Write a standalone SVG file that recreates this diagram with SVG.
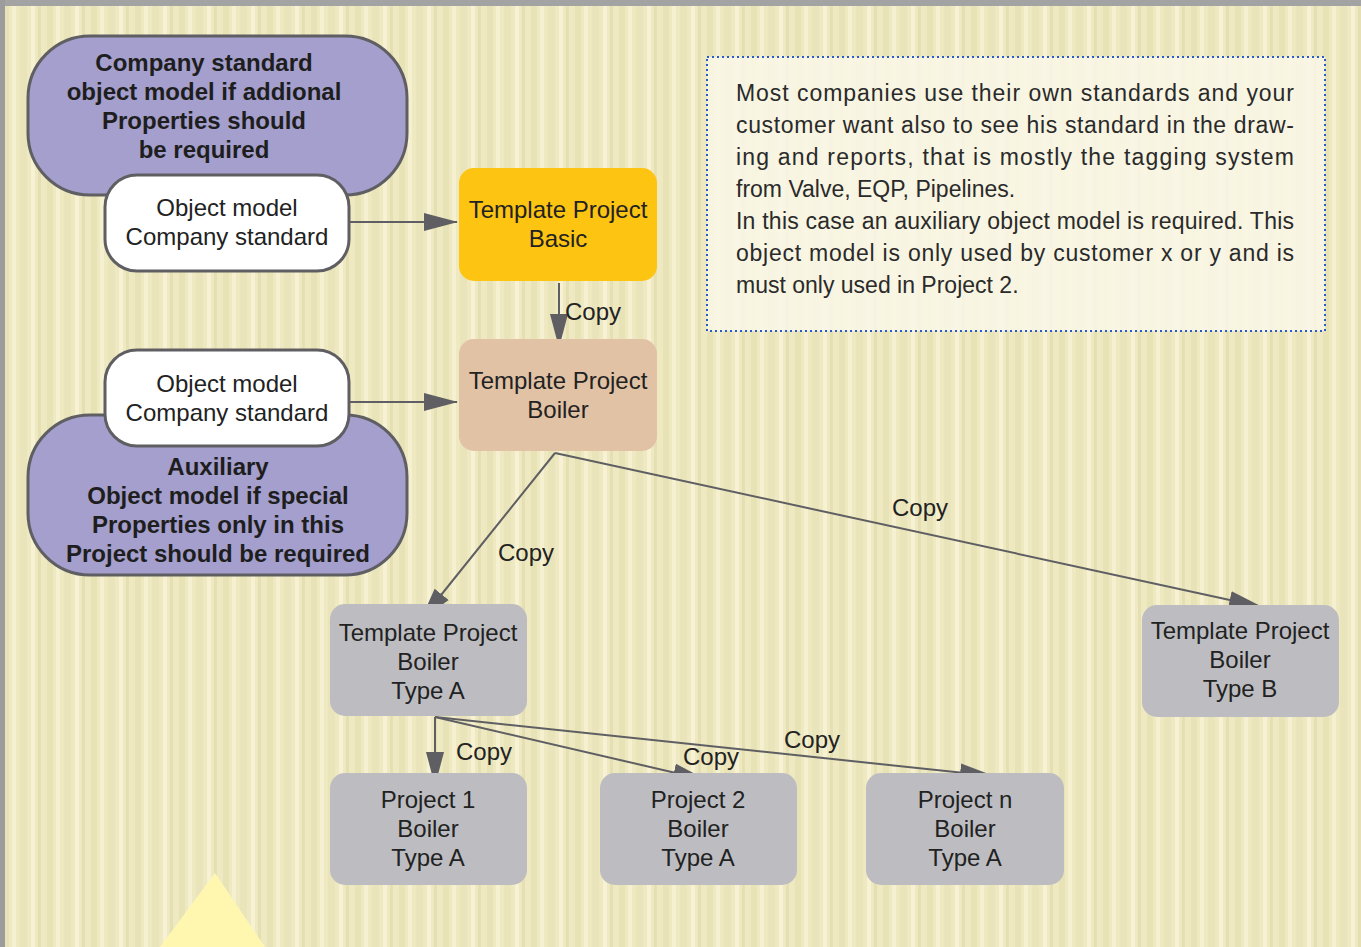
<svg xmlns="http://www.w3.org/2000/svg" width="1361" height="947" viewBox="0 0 1361 947">
<style>
.t{font-family:"Liberation Sans",Arial,sans-serif;font-size:24px;fill:#222;text-anchor:middle}
.b{font-family:"Liberation Sans",Arial,sans-serif;font-size:24px;font-weight:bold;fill:#1e1e1e;text-anchor:middle}
.p{font-family:"Liberation Sans",Arial,sans-serif;font-size:23px;fill:#2a2a2a}
.lbl{font-family:"Liberation Sans",Arial,sans-serif;font-size:24px;fill:#222}
.purple{fill:#a49fcc;stroke:#5f5f63;stroke-width:3}
.white{fill:#ffffff;stroke:#5f5f63;stroke-width:3}
.gray{fill:#bdbdc1}
.edge{stroke:#5f5f63;stroke-width:2;fill:none;marker-end:url(#ah)}
</style>
<defs>
<pattern id="stripes" width="44" height="947" patternUnits="userSpaceOnUse">
<rect width="44" height="947" fill="#efe9c2"/>
<rect x="3" width="6" height="947" fill="#e8e2b7"/>
<rect x="12" width="4" height="947" fill="#f5f1d0"/>
<rect x="20" width="7" height="947" fill="#eae4ba"/>
<rect x="31" width="4" height="947" fill="#f6f2d3"/>
<rect x="38" width="3" height="947" fill="#e6dfb3"/>
</pattern>
<marker id="ah" markerUnits="userSpaceOnUse" markerWidth="36" markerHeight="20" refX="33" refY="10" orient="auto">
<path d="M0,1 L34,10 L0,19 Z" fill="#5f5f63"/>
</marker>
</defs>
<rect width="1361" height="947" fill="url(#stripes)"/>
<rect x="0" y="0" width="1361" height="6" fill="#a3a3a3"/>
<rect x="0" y="0" width="5" height="947" fill="#9c9c9c"/>
<polygon points="215,873 160,947 265,947" fill="#fff7b0"/>

<g id="note">
<rect x="707" y="57" width="618" height="274" fill="#f9f7e8" fill-opacity="0.85" stroke="#2a5cc8" stroke-width="2" stroke-dasharray="2,3"/>
<text class="p" x="736" y="101" textLength="558" lengthAdjust="spacing">Most companies use their own standards and your</text>
<text class="p" x="736" y="133" textLength="558" lengthAdjust="spacing">customer want also to see his standard in the draw-</text>
<text class="p" x="736" y="165" textLength="558" lengthAdjust="spacing">ing and reports, that is mostly the tagging system</text>
<text class="p" x="736" y="197">from Valve, EQP, Pipelines.</text>
<text class="p" x="736" y="229" textLength="558" lengthAdjust="spacing">In this case an auxiliary object model is required. This</text>
<text class="p" x="736" y="261" textLength="558" lengthAdjust="spacing">object model is only used by customer x or y and is</text>
<text class="p" x="736" y="293">must only used in Project 2.</text>
</g>

<g id="connectors">
<line class="edge" x1="349" y1="222" x2="457" y2="222"/>
<line class="edge" x1="349" y1="402" x2="457" y2="402"/>
<line class="edge" x1="559" y1="283" x2="559" y2="347"/>
<text class="lbl" x="565" y="320">Copy</text>
<line class="edge" x1="555" y1="453" x2="421" y2="620"/>
<text class="lbl" x="498" y="561">Copy</text>
<line class="edge" x1="555" y1="453" x2="1262" y2="607"/>
<text class="lbl" x="892" y="516">Copy</text>
<line class="edge" x1="435" y1="717" x2="435" y2="785"/>
<text class="lbl" x="456" y="760">Copy</text>
<line class="edge" x1="435" y1="717" x2="706" y2="780"/>
<text class="lbl" x="683" y="765">Copy</text>
<line class="edge" x1="435" y1="717" x2="993" y2="776"/>
<text class="lbl" x="784" y="748">Copy</text>
</g>

<g id="company-standard">
<rect class="purple" x="28" y="36" width="379" height="159" rx="62"/>
<text class="b" x="204" y="71">Company standard</text>
<text class="b" x="204" y="100">object model if addional</text>
<text class="b" x="204" y="129">Properties should</text>
<text class="b" x="204" y="158">be required</text>
</g>
<g id="object-model-1">
<rect class="white" x="105" y="175" width="244" height="96" rx="32"/>
<text class="t" x="227" y="216">Object model</text>
<text class="t" x="227" y="245">Company standard</text>
</g>
<g id="auxiliary">
<rect class="purple" x="28" y="415" width="379" height="160" rx="62"/>
<text class="b" x="218" y="475">Auxiliary</text>
<text class="b" x="218" y="504">Object model if special</text>
<text class="b" x="218" y="533">Properties only in this</text>
<text class="b" x="218" y="562">Project should be required</text>
</g>
<g id="object-model-2">
<rect class="white" x="105" y="350" width="244" height="96" rx="32"/>
<text class="t" x="227" y="392">Object model</text>
<text class="t" x="227" y="421">Company standard</text>
</g>
<g id="tp-basic">
<rect x="459" y="168" width="198" height="113" rx="15" fill="#fec412"/>
<text class="t" x="558" y="218">Template Project</text>
<text class="t" x="558" y="247">Basic</text>
</g>
<g id="tp-boiler">
<rect x="459" y="339" width="198" height="112" rx="15" fill="#e2c2a5"/>
<text class="t" x="558" y="389">Template Project</text>
<text class="t" x="558" y="418">Boiler</text>
</g>
<g id="tp-boiler-a">
<rect class="gray" x="330" y="604" width="197" height="112" rx="15"/>
<text class="t" x="428" y="641">Template Project</text>
<text class="t" x="428" y="670">Boiler</text>
<text class="t" x="428" y="699">Type A</text>
</g>
<g id="tp-boiler-b">
<rect class="gray" x="1142" y="605" width="197" height="112" rx="15"/>
<text class="t" x="1240" y="639">Template Project</text>
<text class="t" x="1240" y="668">Boiler</text>
<text class="t" x="1240" y="697">Type B</text>
</g>
<g id="project-1">
<rect class="gray" x="330" y="773" width="197" height="112" rx="15"/>
<text class="t" x="428" y="808">Project 1</text>
<text class="t" x="428" y="837">Boiler</text>
<text class="t" x="428" y="866">Type A</text>
</g>
<g id="project-2">
<rect class="gray" x="600" y="773" width="197" height="112" rx="15"/>
<text class="t" x="698" y="808">Project 2</text>
<text class="t" x="698" y="837">Boiler</text>
<text class="t" x="698" y="866">Type A</text>
</g>
<g id="project-n">
<rect class="gray" x="866" y="773" width="198" height="112" rx="15"/>
<text class="t" x="965" y="808">Project n</text>
<text class="t" x="965" y="837">Boiler</text>
<text class="t" x="965" y="866">Type A</text>
</g>
</svg>
